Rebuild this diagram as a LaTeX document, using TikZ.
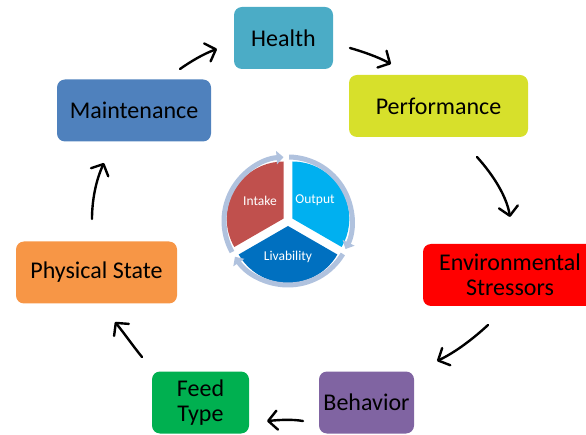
\documentclass[tikz,border=0pt]{standalone}
\usepackage{fontspec}
\setmainfont{Carlito}
\usetikzlibrary{arrows.meta}
\definecolor{chealth}{HTML}{4BACC6}
\definecolor{cmaint}{HTML}{4F81BD}
\definecolor{cperf}{HTML}{D7E02B}
\definecolor{cenv}{HTML}{FF0000}
\definecolor{cbeh}{HTML}{8064A2}
\definecolor{cfeed}{HTML}{00B050}
\definecolor{cphys}{HTML}{F79646}
\definecolor{cintake}{HTML}{C0504D}
\definecolor{coutput}{HTML}{00B0F0}
\definecolor{cliv}{HTML}{0070C0}
\definecolor{cring}{HTML}{B0C2DE}
\begin{document}
\begin{tikzpicture}[x=1pt,y=-1pt,
  box/.style={rounded corners=8pt, inner sep=0pt, minimum height=62pt, align=center,
    font=\fontsize{24}{25.5}\selectfont, text=black},
  flow/.style={line width=2.4pt, line cap=round, -{Straight Barb[round,length=9pt,width=19pt]}},
  ring/.style={line width=5pt, draw=cring, -{Triangle[length=7pt,width=13pt,fill=cring]}},
  seglabel/.style={text=white, font=\fontsize{13.5}{15}\selectfont}]
\useasboundingbox (0,0) rectangle (586,435);
\clip (0,0) rectangle (586,435);
% boxes
\node[box, fill=chealth, minimum width=99pt] (health) at (283.5,38) {Health};
\node[box, fill=cmaint, minimum width=154pt] (maint) at (134,110.5) {Maintenance};
\node[box, fill=cperf, minimum width=179pt] (perf) at (438.5,106) {Performance};
\node[box, fill=cenv, minimum width=174pt] (env) at (510,275) {Environmental\\Stressors};
\node[box, fill=cbeh, minimum width=95pt] (beh) at (366.5,402.5) {Behavior};
\node[box, fill=cfeed, minimum width=97pt] (feed) at (200.5,402.5) {Feed\\Type};
\node[box, fill=cphys, minimum width=161pt] (phys) at (96.5,272.5) {Physical State};
% arrow ends
\coordinate (a1s) at (180,69);  \coordinate (a1e) at (217,49);
\coordinate (a2s) at (350,48);  \coordinate (a2e) at (391,64);
\coordinate (a3s) at (477,157); \coordinate (a3e) at (510,217);
\coordinate (a4s) at (488,325); \coordinate (a4e) at (437,361);
\coordinate (a5s) at (303,421); \coordinate (a5e) at (267,421);
\coordinate (a6s) at (142,357); \coordinate (a6e) at (115,322);
\coordinate (a7s) at (92,219);  \coordinate (a7e) at (104,163);
\draw[flow] (a1s) .. controls (190,62) and (203,54) .. (a1e);
\draw[flow] (a2s) .. controls (364,52) and (378,57) .. (a2e);
\draw[flow] (a3s) .. controls (495,177) and (507,198) .. (a3e);
\draw[flow] (a4s) .. controls (474,338) and (456,352) .. (a4e);
\draw[flow] (a5s) .. controls (291,419) and (279,420) .. (a5e);
\draw[flow] (a6s) .. controls (133,346) and (124,333) .. (a6e);
\draw[flow] (a7s) .. controls (92,200) and (96,180) .. (a7e);
% central cycle
\coordinate (c) at (288,221);
\fill[cintake] ([shift={(-150:5)}]c) -- ++(-90:57) arc[start angle=-90,end angle=-210,radius=57] -- cycle;
\fill[coutput] ([shift={(-30:5)}]c) -- ++(30:57) arc[start angle=30,end angle=-90,radius=57] -- cycle;
\fill[cliv] ([shift={(90:5)}]c) -- ++(150:57) arc[start angle=150,end angle=30,radius=57] -- cycle;
\draw[ring] (c) ++(-209:64) arc[start angle=-209,end angle=-94,radius=64];
\draw[ring] (c) ++(-89:64) arc[start angle=-89,end angle=26,radius=64];
\draw[ring] (c) ++(31:64) arc[start angle=31,end angle=146,radius=64];
\node[seglabel] (intake) at (260,201) {Intake};
\node[seglabel] (output) at (315,200) {Output};
\node[seglabel] (liv) at (288,257) {Livability};
\end{tikzpicture}
\end{document}
